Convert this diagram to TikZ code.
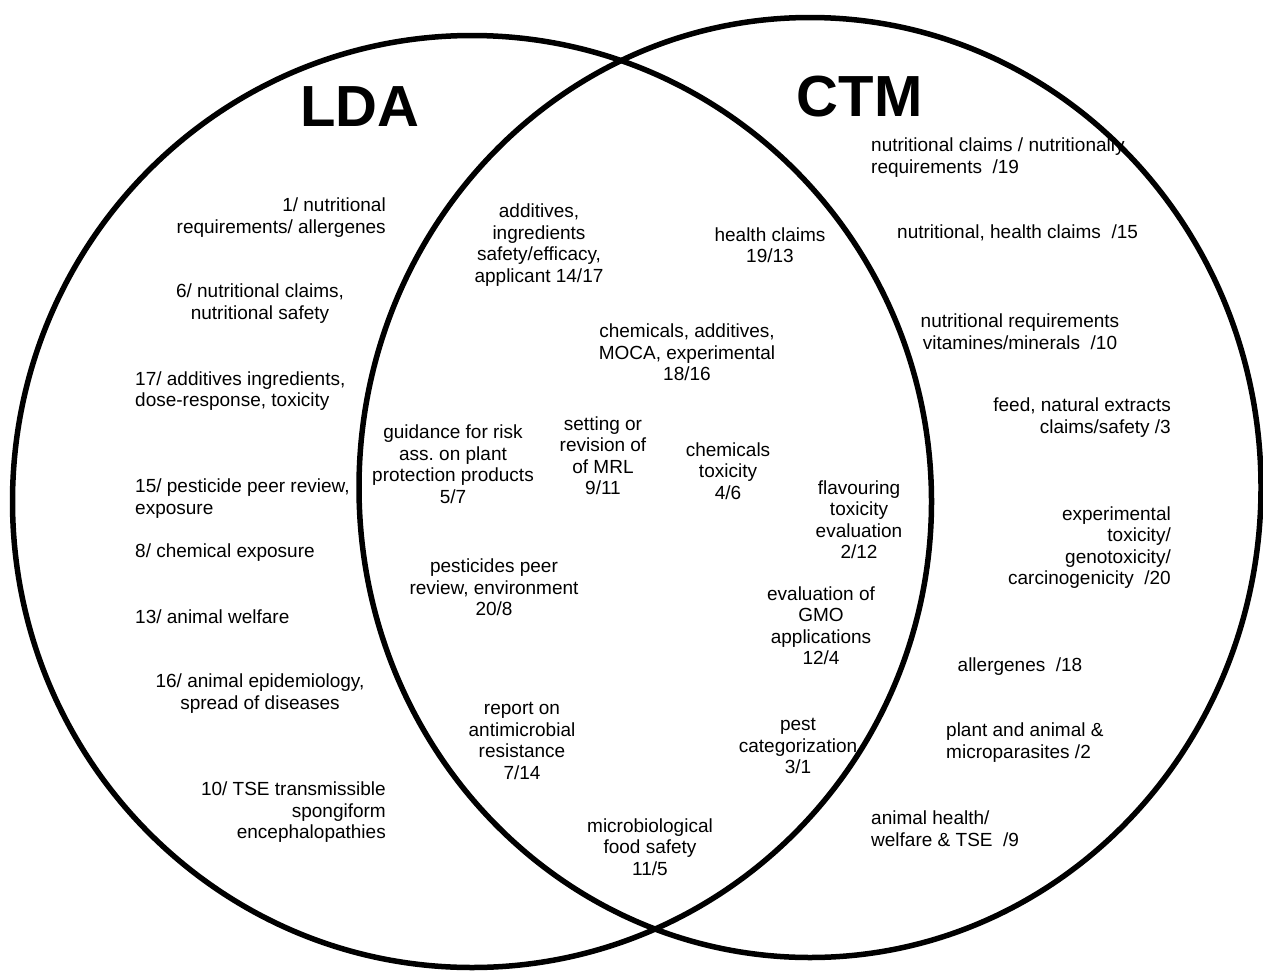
\documentclass[tikz,border=0pt]{standalone}
\usepackage{fontspec}
\setmainfont{Liberation Sans}
\frenchspacing
\begin{document}
\begin{tikzpicture}[x=1pt,y=-1pt,
  ring/.style={draw=black, line width=5.5pt},
  lbl/.style={font=\fontsize{19}{21.5}\selectfont, inner sep=0pt, align=center},
  lblL/.style={lbl, align=left, anchor=west},
  lblR/.style={lbl, align=right, anchor=east},
  heading/.style={font=\fontsize{58}{60}\selectfont\bfseries, inner sep=0pt}]
\useasboundingbox (0,0) rectangle (1263,972);

% the two sets
\draw[ring] (472,501.5) ellipse [x radius=459.5pt, y radius=466pt];
\draw[ring] (810,487.5) ellipse [x radius=451pt, y radius=470pt];

% set names
\node[heading] (lda) at (360,106.5) {LDA};
\node[heading] (ctm) at (859.5,96.5) {CTM};

% LDA only
\node[lblR] (l1)  at (386,217.5) {1/ nutritional\\requirements/ allergenes};
\node[lbl]  (l6)  at (260,303.5) {6/ nutritional claims,\\nutritional safety};
\node[lblL] (l17) at (135,391)   {17/ additives ingredients,\\dose-response, toxicity};
\node[lblL] (l15) at (135,498.5) {15/ pesticide peer review,\\exposure};
\node[lblL] (l8)  at (135,553)   {8/ chemical exposure};
\node[lblL] (l13) at (135,617)   {13/ animal welfare};
\node[lbl]  (l16) at (260,693.5) {16/ animal epidemiology,\\spread of diseases};
\node[lblR] (l10) at (386,812.5) {10/ TSE transmissible\\spongiform\\encephalopathies};

% shared topics
\node[lbl] (s1)  at (539,245)   {additives,\\ingredients\\safety/efficacy,\\applicant 14/17};
\node[lbl] (s2)  at (770,245)   {health claims\\19/13};
\node[lbl] (s3)  at (687,352.5) {chemicals, additives,\\MOCA, experimental\\18/16};
\node[lbl] (s4)  at (453,464)   {guidance for risk\\ass. on plant\\protection products\\5/7};
\node[lbl] (s5)  at (603,455.5) {setting or\\revision of\\of MRL\\9/11};
\node[lbl] (s6)  at (728,471)   {chemicals\\toxicity\\4/6};
\node[lbl] (s7)  at (859,519.5) {flavouring\\toxicity\\evaluation\\2/12};
\node[lbl] (s8)  at (494,587.5) {pesticides peer\\review, environment\\20/8};
\node[lbl] (s9)  at (821,625.5) {evaluation of\\GMO\\applications\\12/4};
\node[lbl] (s10) at (522,741)   {report on\\antimicrobial\\resistance\\7/14};
\node[lbl] (s11) at (798,746)   {pest\\categorization\\3/1};
\node[lbl] (s12) at (650,847)   {microbiological\\food safety\\11/5};

% CTM only
\node[lblL] (c19) at (871,157.5) {nutritional claims / nutritionally\\requirements~~/19};
\node[lblL] (c15) at (897,233)   {nutritional, health claims~~/15};
\node[lbl]  (c10) at (1020,331.5) {nutritional requirements\\vitamines/minerals~~/10};
\node[lblR] (c3)  at (1171,417.5) {feed, natural extracts\\claims/safety /3};
\node[lblR] (c20) at (1171,547.5) {experimental\\toxicity/\\genotoxicity/\\carcinogenicity~~/20};
\node[lbl]  (c18) at (1020,667)   {allergenes~~/18};
\node[lblL] (c2)  at (946,742.5)  {plant and animal \&\\microparasites /2};
\node[lblL] (c9)  at (871,828.5)  {animal health/\\welfare \& TSE~~/9};
\end{tikzpicture}
\end{document}
